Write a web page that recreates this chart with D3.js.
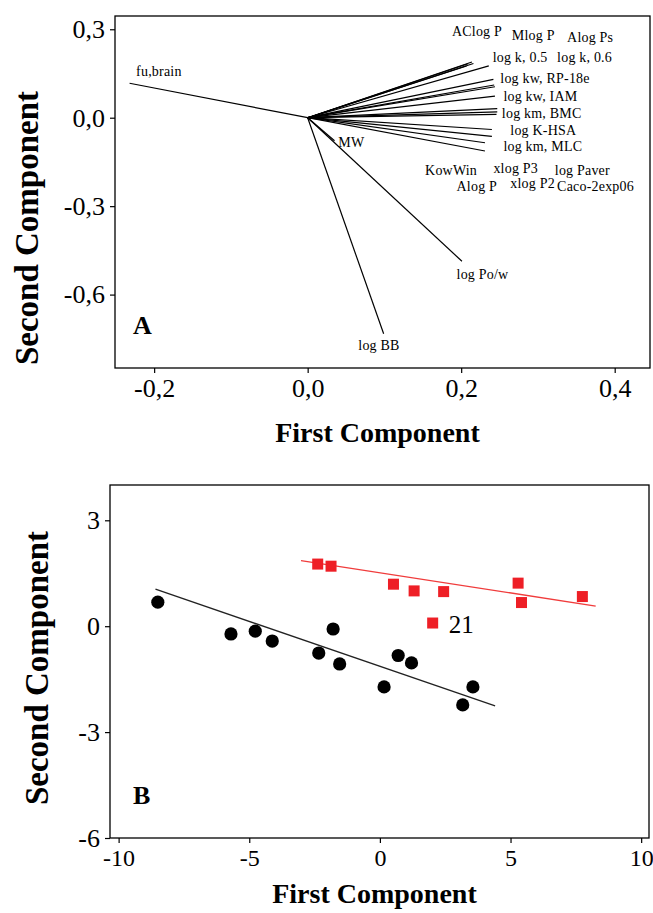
<!DOCTYPE html>
<html>
<head>
<meta charset="utf-8">
<script src="https://cdn.jsdelivr.net/npm/d3@7/dist/d3.min.js"></script>
<style>
  html, body { margin: 0; padding: 0; background: #fff; }
  svg { display: block; }
  text { font-family: "Liberation Serif", "DejaVu Serif", serif; }
</style>
</head>
<body>
<script>
// ---- Panel A: loadings of the descriptors on the first two components ----
const loadingNames = [
  "AClog P", "Mlog P", "Alog Ps", "log k, 0.5", "log k, 0.6",
  "log kw, RP-18e", "xlog P3", "xlog P2", "log kw, IAM",
  "KowWin", "Alog P", "log km, BMC",
  "log K-HSA", "log Paver", "Caco-2exp06", "log km, MLC",
  "fu,brain", "log BB", "log Po/w", "MW"
];
const loadingPC1 = [
  0.214, 0.209, 0.216, 0.236, 0.207,
  0.242, 0.243, 0.244, 0.244,
  0.247, 0.247, 0.246,
  0.240, 0.240, 0.231, 0.231,
  -0.232, 0.099, 0.201, 0.035
];
const loadingPC2 = [
  0.189, 0.183, 0.184, 0.176, 0.176,
  0.130, 0.111, 0.105, 0.073,
  0.031, 0.020, 0.011,
  -0.040, -0.063, -0.085, -0.113,
  0.117, -0.733, -0.487, -0.078
];
// label anchors (start of text, baseline) in component units
const labelPC1 = [
  0.188, 0.266, 0.338, 0.241, 0.325,
  0.251, 0.242, 0.264, 0.255,
  0.153, 0.194, 0.253,
  0.264, 0.322, 0.325, 0.255,
  -0.2235, 0.066, 0.194, 0.040
];
const labelPC2 = [
  0.276, 0.264, 0.256, 0.188, 0.188,
  0.117, -0.186, -0.240, 0.057,
  -0.193, -0.249, -0.001,
  -0.060, -0.193, -0.250, -0.113,
  0.142, -0.787, -0.546, -0.101
];
const ticksA_x = [-0.2, 0.0, 0.2, 0.4];
const ticksA_y = [0.3, 0.0, -0.3, -0.6];

// ---- Panel B: compound scores ----
const blackPC1 = [-8.50, -5.70, -4.77, -4.12, -2.34, -1.79, -1.54, 0.16, 0.70, 1.21, 3.17, 3.56];
const blackPC2 = [0.68, -0.22, -0.14, -0.42, -0.76, -0.08, -1.07, -1.72, -0.83, -1.04, -2.23, -1.72];
const redPC1 = [-2.38, -1.87, 0.52, 1.31, 2.44, 5.29, 5.42, 7.75, 2.02];
const redPC2 = [1.76, 1.70, 1.19, 1.00, 0.98, 1.22, 0.67, 0.84, 0.09];
const redNames = ["", "", "", "", "", "", "", "", "21"];
// fitted trend lines (end points)
const blackFitPC1 = [-8.59, 4.41];
const blackFitPC2 = [1.05, -2.26];
const redFitPC1 = [-3.02, 8.26];
const redFitPC2 = [1.86, 0.57];
const ticksB_x = [-10, -5, 0, 5, 10];
const ticksB_y = [3, 0, -3, -6];

const fmtComma = d => d3.format(".1f")(d).replace(".", ",").replace("−", "-");
const fmtInt = d => d3.format("d")(d).replace("−", "-");

const svg = d3.select("body").append("svg")
  .attr("width", 653).attr("height", 913);
svg.append("rect").attr("width", 653).attr("height", 913).attr("fill", "#fff");

function frame(g, x, y, xt, yt, xfmt, yfmt, xsize, ysize) {
  const [x0, x1] = x.range(), [y0, y1] = y.range();
  g.append("rect")
    .attr("x", x0).attr("y", y1)
    .attr("width", x1 - x0).attr("height", y0 - y1)
    .attr("fill", "none").attr("stroke", "#000").attr("stroke-width", 1.3);
  const ax = g.append("g").attr("transform", `translate(0,${y0})`)
    .call(d3.axisBottom(x).tickValues(xt).tickSize(5).tickPadding(6).tickFormat(xfmt));
  const ay = g.append("g").attr("transform", `translate(${x0},0)`)
    .call(d3.axisLeft(y).tickValues(yt).tickSize(5).tickPadding(5).tickFormat(yfmt));
  [[ax, xsize], [ay, ysize]].forEach(([a, fs]) => {
    a.select(".domain").remove();
    a.selectAll("line").attr("stroke", "#000").attr("stroke-width", 1.2);
    a.selectAll("text").attr("font-size", fs)
      .attr("font-family", "Liberation Serif").attr("fill", "#000");
  });
}

// ================= Panel A =================
const xA = d3.scaleLinear().domain([-0.251, 0.446]).range([115, 650]);
const yA = d3.scaleLinear().domain([-0.849, 0.345]).range([368, 16]);
const gA = svg.append("g");
frame(gA, xA, yA, ticksA_x, ticksA_y, fmtComma, fmtComma, 26, 26);

const loadings = loadingNames.map((n, i) => ({
  name: n, x: loadingPC1[i], y: loadingPC2[i], lx: labelPC1[i], ly: labelPC2[i]
}));

gA.append("g").selectAll("line").data(loadings).join("line")
  .attr("x1", xA(0)).attr("y1", yA(0))
  .attr("x2", d => xA(d.x)).attr("y2", d => yA(d.y))
  .attr("stroke", "#000").attr("stroke-width", 1.2);

gA.append("g").selectAll("text").data(loadings).join("text")
  .attr("x", d => xA(d.lx)).attr("y", d => yA(d.ly))
  .attr("font-size", 14).attr("letter-spacing", 0.2)
  .attr("fill", "#000")
  .text(d => d.name);

gA.append("text").attr("x", 133).attr("y", 334)
  .attr("font-size", 26).attr("font-weight", "bold").text("A");

gA.append("text").attr("x", (115 + 650) / 2 - 5).attr("y", 442)
  .attr("text-anchor", "middle").attr("font-size", 28).attr("font-weight", "bold")
  .text("First Component");
gA.append("text").attr("transform", `translate(38,228) rotate(-90)`)
  .attr("text-anchor", "middle").attr("font-size", 33).attr("font-weight", "bold")
  .text("Second Component");

// ================= Panel B =================
const xB = d3.scaleLinear().domain([-10.33, 10.3]).range([110, 649]);
const yB = d3.scaleLinear().domain([-6, 4]).range([838, 485]);
const gB = svg.append("g");
frame(gB, xB, yB, ticksB_x, ticksB_y, fmtInt, fmtInt, 24, 26);

const line = d3.line().x(d => xB(d[0])).y(d => yB(d[1]));
gB.append("path")
  .attr("d", line(blackFitPC1.map((v, i) => [v, blackFitPC2[i]])))
  .attr("fill", "none").attr("stroke", "#222").attr("stroke-width", 1.3);
gB.append("path")
  .attr("d", line(redFitPC1.map((v, i) => [v, redFitPC2[i]])))
  .attr("fill", "none").attr("stroke", "#f03c3c").attr("stroke-width", 1.3);

const blackPts = blackPC1.map((v, i) => ({ x: v, y: blackPC2[i] }));
gB.append("g").selectAll("circle").data(blackPts).join("circle")
  .attr("cx", d => xB(d.x)).attr("cy", d => yB(d.y)).attr("r", 6.6)
  .attr("fill", "#000");

const redPts = redPC1.map((v, i) => ({ x: v, y: redPC2[i], name: redNames[i] }));
const sq = 11;
gB.append("g").selectAll("rect").data(redPts).join("rect")
  .attr("x", d => xB(d.x) - sq / 2).attr("y", d => yB(d.y) - sq / 2)
  .attr("width", sq).attr("height", sq).attr("fill", "#ee1f26");
gB.append("g").selectAll("text").data(redPts.filter(d => d.name)).join("text")
  .attr("x", d => xB(d.x) + 16).attr("y", d => yB(d.y) + 10)
  .attr("font-size", 25).attr("fill", "#000")
  .text(d => d.name);

gB.append("text").attr("x", 133).attr("y", 804)
  .attr("font-size", 26).attr("font-weight", "bold").text("B");

gB.append("text").attr("x", (110 + 649) / 2 - 5).attr("y", 903)
  .attr("text-anchor", "middle").attr("font-size", 28).attr("font-weight", "bold")
  .text("First Component");
gB.append("text").attr("transform", `translate(48,668) rotate(-90)`)
  .attr("text-anchor", "middle").attr("font-size", 33).attr("font-weight", "bold")
  .text("Second Component");
</script>
</body>
</html>
